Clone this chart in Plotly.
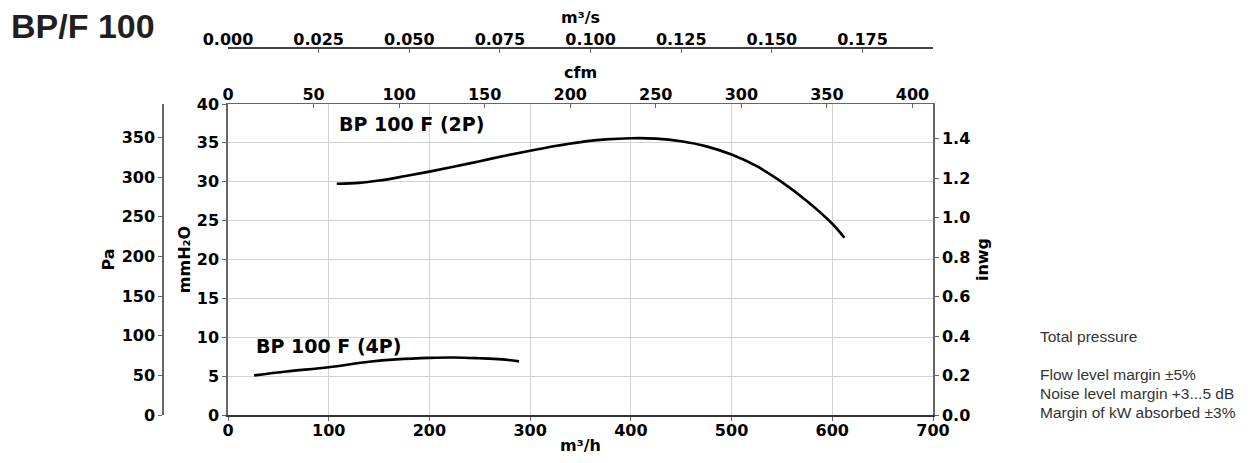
import plotly.graph_objects as go

# ---- data ----
flow_2p = [108, 130, 150, 175, 200, 225, 250, 275, 300, 325, 350, 375, 400, 425, 450, 475, 500, 525, 550, 575, 600, 612]
pres_2p = [29.75, 29.85, 30.15, 30.7, 31.3, 31.95, 32.65, 33.35, 34.0, 34.6, 35.1, 35.45, 35.6, 35.55, 35.2, 34.55, 33.5, 32.0, 29.95, 27.5, 24.6, 22.8]
flow_4p = [26, 58, 100, 140, 167, 200, 224, 249, 272, 289]
pres_4p = [5.1, 5.6, 6.15, 6.85, 7.15, 7.35, 7.4, 7.3, 7.15, 6.9]

label_2p = "BP 100 F (2P)"
label_4p = "BP 100 F (4P)"
title = "BP/F 100"
notes = ["Total pressure", "", "Flow level margin \u00b15%", "Noise level margin +3...5 dB", "Margin of kW absorbed \u00b13%"]

# axes ranges / unit conversions
flow_max = 700          # m3/h
pres_max = 40           # mmH2O
CFM = 1.69901           # m3/h per cfm
PA = 9.80665            # Pa per mmH2O
INWG = 25.4             # mmH2O per inwg

OFF = 8                 # default page body margin
W, H = 1251 - OFF, 463 - OFF
# target page-pixel positions of the frame
left_px, right_px, top_px, bottom_px = 228, 933, 104, 415
top_axis_px, pa_axis_px = 48, 163
ml = 142
mr = W - (right_px - OFF)
mt = top_axis_px - OFF
mb = H - (bottom_px - OFF)
plot_w = W - ml - mr
plot_h = H - mt - mb


def px_x(p):
    return (p - OFF - ml) / plot_w


def px_y(p):
    return (H - mb - (p - OFF)) / plot_h


x_dom0 = px_x(left_px)
y_dom1 = px_y(top_px)
pa_pos = px_x(pa_axis_px)

bold = dict(family="DejaVu Sans", size=16, color="black", weight="bold")
axis_col = "#666666"
grid_col = "#d3d3d3"

fig = go.Figure()
fig.add_trace(go.Scatter(x=flow_2p, y=pres_2p, mode="lines", line=dict(color="black", width=2.6, shape="spline"),
                         showlegend=False, hoverinfo="skip"))
fig.add_trace(go.Scatter(x=flow_4p, y=pres_4p, mode="lines", line=dict(color="black", width=2.6, shape="spline"),
                         showlegend=False, hoverinfo="skip"))
# converted-unit copies (transparent) so that every secondary axis has a subplot
fig.add_trace(go.Scatter(x=[f / CFM for f in flow_2p], y=pres_2p, xaxis="x2", yaxis="y", mode="lines",
                         line=dict(color="rgba(0,0,0,0)"), showlegend=False, hoverinfo="skip"))
fig.add_trace(go.Scatter(x=[f / 3600 for f in flow_2p], y=pres_2p, xaxis="x3", yaxis="y", mode="lines",
                         line=dict(color="rgba(0,0,0,0)"), showlegend=False, hoverinfo="skip"))
fig.add_trace(go.Scatter(x=flow_2p, y=[p / INWG for p in pres_2p], xaxis="x", yaxis="y2", mode="lines",
                         line=dict(color="rgba(0,0,0,0)"), showlegend=False, hoverinfo="skip"))
fig.add_trace(go.Scatter(x=flow_2p, y=[p * PA for p in pres_2p], xaxis="x", yaxis="y3", mode="lines",
                         line=dict(color="rgba(0,0,0,0)"), showlegend=False, hoverinfo="skip"))

fig.update_layout(
    width=W, height=H,
    margin=dict(l=ml, r=mr, t=mt, b=mb),
    paper_bgcolor="white", plot_bgcolor="white",
    xaxis=dict(domain=[x_dom0, 1], range=[0, flow_max], dtick=100, tick0=0, automargin=False,
               showgrid=True, gridcolor=grid_col, gridwidth=1, zeroline=False,
               showline=True, linecolor="#333333", linewidth=1.5,
               ticks="outside", ticklen=4, tickcolor=axis_col, tickfont=bold, ticklabelstandoff=-4,
               title=dict(text="m\u00b3/h", font=bold, standoff=1), anchor="y"),
    xaxis2=dict(overlaying="x", side="top", anchor="y", range=[0, flow_max / CFM], dtick=50, tick0=0,
                automargin=False, showgrid=False, zeroline=False, showline=True, linecolor=axis_col, linewidth=1.2,
                ticks="inside", ticklen=4, tickcolor=axis_col, tickfont=bold, ticklabelstandoff=-3,
                title=dict(text="cfm", font=bold, standoff=1)),
    xaxis3=dict(overlaying="x", side="top", anchor="free", position=1.0, range=[0, flow_max / 3600],
                dtick=0.025, tick0=0, tickformat=".3f", automargin=False,
                showgrid=False, zeroline=False, showline=True, linecolor="#444444", linewidth=1.5,
                ticks="inside", ticklen=4, tickcolor=axis_col, tickfont=bold, ticklabelstandoff=-4,
                title=dict(text="m\u00b3/s", font=bold, standoff=5)),
    yaxis=dict(domain=[0, y_dom1], range=[0, pres_max], dtick=5, tick0=0, automargin=False,
               showgrid=True, gridcolor=grid_col, gridwidth=1, zeroline=False,
               showline=True, linecolor=axis_col, linewidth=1.5,
               ticks="outside", ticklen=4, tickcolor=axis_col, tickfont=bold,
               title=dict(text="mmH\u2082O", font=bold, standoff=2), anchor="x"),
    yaxis2=dict(overlaying="y", side="right", anchor="x", range=[0, pres_max / INWG], dtick=0.2, tick0=0,
                tickformat=".1f", automargin=False, showgrid=False, zeroline=False,
                showline=True, linecolor=axis_col, linewidth=1.5,
                ticks="outside", ticklen=4, tickcolor=axis_col, tickfont=bold,
                title=dict(text="inwg", font=bold, standoff=8)),
    yaxis3=dict(overlaying="y", side="left", anchor="free", position=pa_pos, range=[0, pres_max * PA],
                dtick=50, tick0=0, automargin=False, showgrid=False, zeroline=False,
                showline=True, linecolor=axis_col, linewidth=1.5,
                ticks="outside", ticklen=4, tickcolor=axis_col, tickfont=bold,
                title=dict(text="Pa", font=bold, standoff=2)),
)

lab_font = dict(family="DejaVu Sans", size=19, color="black", weight="bold")
mm_per_px = pres_max / (bottom_px - top_px)
fig.add_annotation(x=flow_2p[0], y=(bottom_px - 124) * mm_per_px, xref="x", yref="y", text=label_2p,
                   showarrow=False, xanchor="left", yanchor="middle", font=lab_font)
fig.add_annotation(x=flow_4p[0], y=(bottom_px - 346) * mm_per_px, xref="x", yref="y", text=label_4p,
                   showarrow=False, xanchor="left", yanchor="middle", font=lab_font)

fig.add_annotation(x=px_x(9), y=px_y(26), xref="paper", yref="paper", text=title,
                   showarrow=False, xanchor="left", yanchor="middle",
                   font=dict(family="Liberation Sans, Arial", size=34, color="#231f20", weight="bold"))

note_y = [336, 355, 374, 393, 412]
for t, yy in zip(notes, note_y):
    if t:
        fig.add_annotation(x=px_x(1038), y=px_y(yy), xref="paper", yref="paper",
                           text=t, showarrow=False, xanchor="left", yanchor="middle",
                           font=dict(family="Liberation Sans, Arial", size=15.5, color="#333333"))

fig.write_html("out.html")
